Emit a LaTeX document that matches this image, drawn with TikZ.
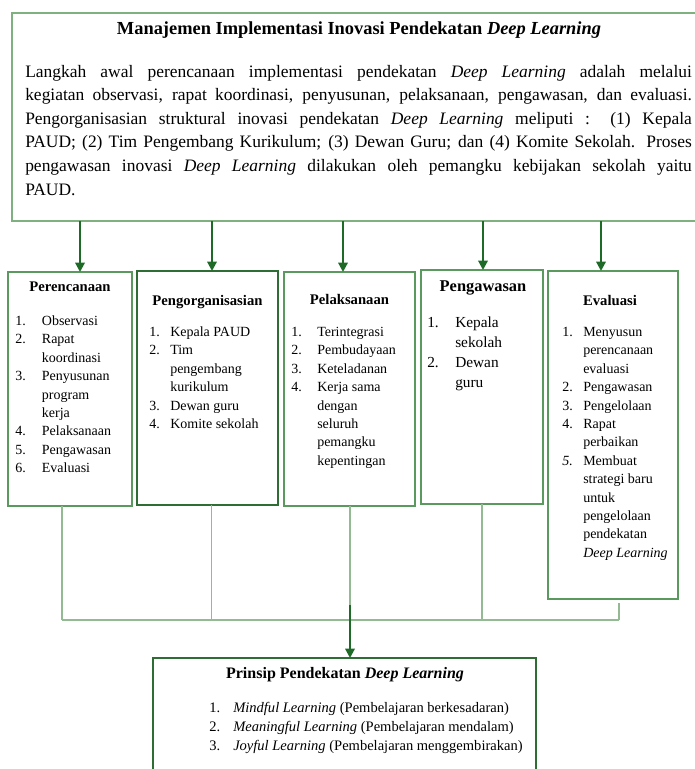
\documentclass[tikz,border=0pt]{standalone}
\usepackage{fontspec}
\setmainfont{Liberation Serif}
\usetikzlibrary{arrows.meta}

\definecolor{framegreen}{HTML}{7FB07F}
\definecolor{boxgreen}{HTML}{5B9A5F}
\definecolor{darkgreen}{HTML}{2E6E35}
\definecolor{arrowgreen}{HTML}{1E6B27}
\definecolor{linkgreen}{HTML}{93BA93}

\tikzset{
  stagebox/.style={draw=boxgreen, line width=1.1pt, anchor=north west, inner sep=0pt, outer sep=0pt},
  flow/.style={draw=arrowgreen, line width=1.6pt, -{Triangle[width=7pt,length=7pt]}},
  link/.style={draw=linkgreen, line width=0.8pt},
  heading/.style={font=\bfseries\fontsize{11}{13}\selectfont, anchor=base, inner sep=0pt},
  items/.style={font=\fontsize{10.5}{13.8}\selectfont, anchor=base west, inner sep=0pt},
}

\begin{document}
\begin{tikzpicture}[x=0.75pt, y=-0.75pt]
        \useasboundingbox (0,0) rectangle (694,769);

        % top frame
        \node[stagebox, draw=framegreen, line width=0.9pt, minimum width=523.5pt, minimum height=156pt] (intro) at (12,13) {};
        \node[heading, font=\bfseries\fontsize{13.8}{15}\selectfont] (introtitle) at (359,34) {Manajemen Implementasi Inovasi Pendekatan \emph{Deep Learning}};
        \node[anchor=base west, inner sep=0pt, text width=500pt, align=justify, font=\fontsize{13.1}{17.7}\selectfont] (introtext) at (25,77)
          {Langkah awal perencanaan implementasi pendekatan \emph{Deep Learning} adalah melalui\linebreak
           kegiatan observasi, rapat koordinasi, penyusunan, pelaksanaan, pengawasan, dan evaluasi.\linebreak
           Pengorganisasian struktural inovasi pendekatan \emph{Deep Learning} meliputi : (1) Kepala\linebreak
           PAUD; (2) Tim Pengembang Kurikulum; (3) Dewan Guru; dan (4) Komite Sekolah. Proses\linebreak
           pengawasan inovasi \emph{Deep Learning} dilakukan oleh pemangku kebijakan sekolah yaitu\linebreak
           PAUD.};

        % five stages
        \node[stagebox, minimum width=93pt, minimum height=175.5pt] (plan) at (8,272) {};
        \node[stagebox, draw=darkgreen, minimum width=105.75pt, minimum height=175.5pt] (organize) at (137,271) {};
        \node[stagebox, minimum width=98.25pt, minimum height=175.5pt] (action) at (284,272) {};
        \node[stagebox, minimum width=91.5pt, minimum height=175.5pt] (control) at (421,270) {};
        \node[stagebox, minimum width=97.5pt, minimum height=246pt] (evaluate) at (548,271) {};

        \node[heading] (plantitle) at (70,291) {Perencanaan};
        \node[heading] (organizetitle) at (207.5,305) {Pengorganisasian};
        \node[heading] (actiontitle) at (349.5,304) {Pelaksanaan};
        \node[heading, font=\bfseries\fontsize{12.3}{14}\selectfont] (controltitle) at (483,291.5) {Pengawasan};
        \node[heading] (evaluatetitle) at (610,305) {Evaluasi};

        \node[items] (planlist) at (15,325.5) {\begin{tabular}[t]{@{}p{20pt}@{}l@{}}
          1. & Observasi\\ 2. & Rapat\\ & koordinasi\\ 3. & Penyusunan\\ & program\\ & kerja\\
          4. & Pelaksanaan\\ 5. & Pengawasan\\ 6. & Evaluasi\end{tabular}};
        \node[items] (organizelist) at (149,336.5) {\begin{tabular}[t]{@{}p{15.75pt}@{}l@{}}
          1. & Kepala PAUD\\ 2. & Tim\\ & pengembang\\ & kurikulum\\ 3. & Dewan guru\\ 4. & Komite sekolah\end{tabular}};
        \node[items] (actionlist) at (291,336.5) {\begin{tabular}[t]{@{}p{19.5pt}@{}l@{}}
          1. & Terintegrasi\\ 2. & Pembudayaan\\ 3. & Keteladanan\\ 4. & Kerja sama\\ & dengan\\ & seluruh\\
          & pemangku\\ & kepentingan\end{tabular}};
        \node[items, font=\fontsize{11.5}{15}\selectfont] (controllist) at (427,327) {\begin{tabular}[t]{@{}p{21pt}@{}l@{}}
          1. & Kepala\\ & sekolah\\ 2. & Dewan\\ & guru\end{tabular}};
        \node[items] (evaluatelist) at (562,336.5) {\begin{tabular}[t]{@{}p{15.75pt}@{}l@{}}
          1. & Menyusun\\ & perencanaan\\ & evaluasi\\ 2. & Pengawasan\\ 3. & Pengelolaan\\ 4. & Rapat\\
          & perbaikan\\ \emph{5.} & Membuat\\ & strategi baru\\ & untuk\\ & pengelolaan\\ & pendekatan\\
          & \emph{Deep Learning}\end{tabular}};

        % principles
        \node[stagebox, draw=darkgreen, line width=1.2pt, minimum width=287.25pt, minimum height=91.5pt] (prinsip) at (153,658) {};
        \node[heading, font=\bfseries\fontsize{12}{14}\selectfont] (prinsiptitle) at (345,678) {Prinsip Pendekatan \emph{Deep Learning}};
        \node[items, font=\fontsize{10.9}{14.25}\selectfont] (prinsiplist) at (209,712.5) {\begin{tabular}[t]{@{}p{18pt}@{}l@{}}
          1. & \emph{Mindful Learning} (Pembelajaran berkesadaran)\\
          2. & \emph{Meaningful Learning} (Pembelajaran mendalam)\\
          3. & \emph{Joyful Learning} (Pembelajaran menggembirakan)\end{tabular}};

        % arrows down from the frame
        \coordinate (k1) at (80,0);
        \coordinate (k2) at (212,0);
        \coordinate (k3) at (343,0);
        \coordinate (k4) at (483,0);
        \coordinate (k5) at (601,0);
        \draw[flow] (intro.south -| k1) -- (plan.north -| k1);
        \draw[flow] (intro.south -| k2) -- (organize.north -| k2);
        \draw[flow] (intro.south -| k3) -- (action.north -| k3);
        \draw[flow] (intro.south -| k4) -- (control.north -| k4);
        \draw[flow] (intro.south -| k5) -- (evaluate.north -| k5);

        % joining lines
        \coordinate (m1) at (62,620);
        \coordinate (m2) at (211.5,620);
        \coordinate (m3) at (350,620);
        \coordinate (m4) at (482,620);
        \coordinate (m5) at (619,620);
        \coordinate (m5top) at (619,603);
        \coordinate (m3top) at (350,605);
        \draw[link] (plan.south -| m1) -- (m1);
        \draw[link] (organize.south -| m2) -- (m2);
        \draw[link] (action.south -| m3) -- (m3top);
        \draw[link] (control.south -| m4) -- (m4);
        \draw[link] (m5top) -- (m5);
        \draw[link] (m1) -- (m5);
        \draw[flow] (m3top) -- (prinsip.north -| m3top);
\end{tikzpicture}
\end{document}
